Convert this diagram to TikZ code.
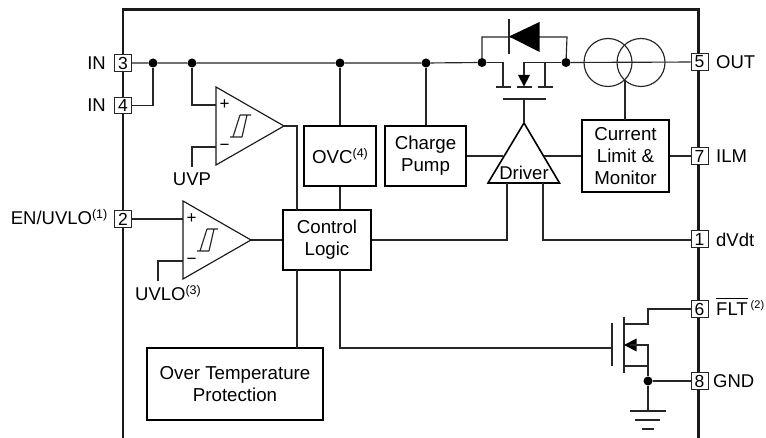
\documentclass[tikz,border=0pt]{standalone}
\usepackage{fontspec}
\setmainfont{Liberation Sans}
\usetikzlibrary{calc}
\tikzset{
  wire/.style={line width=1.15pt,color=black!85},
  frame/.style={line width=2.6pt,color=black!90},
  block/.style={draw=black,line width=2.4pt,fill=white,align=center,inner sep=0pt,font=\fontsize{18.7}{22.2}\selectfont},
  pin/.style={draw=black!85,line width=1pt,fill=white,minimum width=17pt,minimum height=16.5pt,inner sep=0pt,font=\fontsize{17.5}{18}\selectfont},
  lab/.style={inner sep=0pt,font=\fontsize{18.5}{22}\selectfont},
  dot/.style={circle,fill=black,minimum size=9pt,inner sep=0pt},
  sym/.style={inner sep=0pt,font=\fontsize{17}{17}\selectfont},
  amp/.style={line width=1.15pt,color=black!90,line join=miter},
}
\newcommand{\supr}[1]{\raisebox{6.5pt}{\fontsize{12.5}{13}\selectfont #1}}
\begin{document}
\begin{tikzpicture}[x=1pt,y=-1pt]
\clip (0,0) rectangle (766,438);
\fill[white] (0,0) rectangle (766,438);
% package outline
\coordinate (fbl) at (123,438); \coordinate (ftl) at (123,9.5);
\coordinate (ftr) at (698.5,9.5); \coordinate (fbr) at (698.5,438);
\draw[frame] (fbl) -- (ftl) -- (ftr) -- (fbr);
% pins
\node[pin] (p3) at (123,63) {3};
\node[pin] (p4) at (123,105.5) {4};
\node[pin] (p2) at (123,219) {2};
\node[pin] (p5) at (699.5,62) {5};
\node[pin] (p7) at (699.5,156) {7};
\node[pin] (p1) at (699.5,239) {1};
\node[pin] (p6) at (699.5,309) {6};
\node[pin] (p8) at (699.5,381) {8};
% pin labels
\node[lab,anchor=east] (l3) at (106,63) {IN};
\node[lab,anchor=east] (l4) at (106,105.5) {IN};
\node[lab,anchor=east] (l2) at (107.5,217) {EN/UVLO\supr{(1)}};
\node[lab,anchor=west] (l5) at (716,62.5) {OUT};
\node[lab,anchor=west] (l7) at (716,156.5) {ILM};
\node[lab,anchor=west] (l1) at (716,239.5) {dVdt};
\node[lab,anchor=base west] (l6) at (716,315.5) {$\overline{\hbox{\rule{0pt}{16pt}FLT}}$\hspace{3pt}\raisebox{6.5pt}{\fontsize{11}{12}\selectfont (2)}};
\node[lab,anchor=west] (l8) at (713,381.5) {GND};
% blocks
\node[block,minimum width=72pt,minimum height=60pt] (ovc) at (340,156) {OVC\supr{(4)}};
\node[block,minimum width=81pt,minimum height=60pt] (cp) at (425.5,156) {Charge\\Pump};
\node[block,minimum width=87pt,minimum height=72pt] (cl) at (625.5,156) {Current\\Limit \&\\Monitor};
\node[block,minimum width=88pt,minimum height=60pt] (logic) at (327,240) {Control\\Logic};
\node[block,minimum width=176pt,minimum height=72pt] (otp) at (235,384) {Over Temperature\\Protection};
% comparator 1
\coordinate (c1a) at (216,87); \coordinate (c1b) at (216,165); \coordinate (c1o) at (284,126);
\coordinate (c1p) at (216,105); \coordinate (c1n) at (216,147);
\draw[amp] (c1a) -- (c1o) -- (c1b) -- cycle;
\node[sym] (c1plus) at (224.5,105) {+};
\node[sym] (c1minus) at (224.5,147.5) {−};
\draw[wire] (240,115) -- (251,115) (230,137) -- (242,137) (240,115) -- (233,137) (247,115) -- (242,137);
% comparator 2
\coordinate (c2a) at (183,201); \coordinate (c2b) at (183,279); \coordinate (c2o) at (251,240);
\coordinate (c2p) at (183,219); \coordinate (c2n) at (183,261);
\draw[amp] (c2a) -- (c2o) -- (c2b) -- cycle;
\node[sym] (c2plus) at (191.5,219) {+};
\node[sym] (c2minus) at (191.5,261.5) {−};
\draw[wire] (207,229) -- (218,229) (197,251) -- (209,251) (207,229) -- (200,251) (214,229) -- (209,251);
\node[lab] (uvp) at (192,179.5) {UVP};
\node[lab,anchor=base west] (uvlo) at (135,301) {UVLO\supr{(3)}};
% driver
\coordinate (da) at (524,123); \coordinate (db) at (488,183); \coordinate (dc) at (559.5,183);
\draw[line width=1.6pt,line join=miter] (da) -- (dc) -- (db) -- cycle;
\node[lab] (drv) at (524,172.5) {Driver};
% junctions
\node[dot] (j1) at (153,63) {};
\node[dot] (j2) at (192,63) {};
\node[dot] (j3) at (340,63) {};
\node[dot] (j4) at (426,63) {};
\node[dot] (j5) at (482,62.5) {};
\node[dot] (j6) at (566,62.5) {};
\node[dot] (j7) at (648,381) {};
% IN rail
\draw[wire] (p3) -- (j1) -- (j2) -- (j3) -- (j4) -- (j5);
\draw[wire] (p4.east) -- (p4.east -| j1) -- (j1);
\draw[wire] (j2) |- (c1p);
\draw[wire] (c1n) -- (192,147) -- (192,167);
\draw[wire] (p2) -- (c2p);
\draw[wire] (c2n) -- (158,261) -- (158,281);
\draw[wire] (c2o) -- (logic.west |- c2o);
\draw[wire] (c1o) -- (297,126) -- (297,210);
\draw[wire] (j3) -- (ovc.north -| j3);
\draw[wire] (j4) -- (cp.north -| j4);
\draw[wire] (ovc.south) -- (logic.north -| ovc.south);
\draw[wire] (cp.east) -- (503,156);
\draw[wire] (544,156) -- (cl.west);
\draw[wire] (cl.east) -- (p7);
\draw[wire] (logic.east) -- (507,240) -- (507,183);
\draw[wire] (543,183) -- (543,240) -- (p1.west |- 0,240);
\draw[wire] (297,270) -- (297,348);
\draw[wire] (340,270) -- (340,348) -- (612,348);
% MOSFET pass device and diode
\draw[wire] (j5) -- (482,37) -- (567,37) -- (j6);
\draw[wire] (509,19) -- (509,54);
\fill (509,36.5) -- (539.5,22) -- (539.5,52) -- cycle;
\draw[wire] (j5) -- (503,62.5) -- (503,87);
\draw[wire] (496,87) -- (511,87) (517,87) -- (532,87) (538,87) -- (553,87);
\draw[wire] (j6) -- (524,62.5) -- (524,76);
\draw[wire] (545,62.5) -- (545,87);
\fill (518,75) -- (530,75) -- (524,86.5) -- cycle;
\draw[wire] (503,99) -- (546,99);
\draw[wire] (524,99) -- (da);
% current sensor
\draw[wire] (j6) -- (p5);
\draw[wire] (608,62.5) circle[radius=24];
\draw[wire] (641,62.5) circle[radius=24];
\draw[wire] (625,80) -- (625,120);
% FLT NMOS
\draw[wire] (612,323) -- (612,366);
\draw[wire] (624,317) -- (624,373);
\draw[wire] (624,324) -- (648,324) -- (648,309) -- (p6);
\fill (624,345) -- (636.5,338.5) -- (636.5,351.5) -- cycle;
\draw[wire] (630,345) -- (648,345) -- (j7);
\draw[wire] (624,366) -- (648,366);
\draw[wire] (j7) -- (p8);
\draw[wire] (j7) -- (648,411);
\draw[wire] (630,411) -- (666,411) (635,420) -- (660,420) (642,429) -- (654,429);
\end{tikzpicture}
\end{document}
